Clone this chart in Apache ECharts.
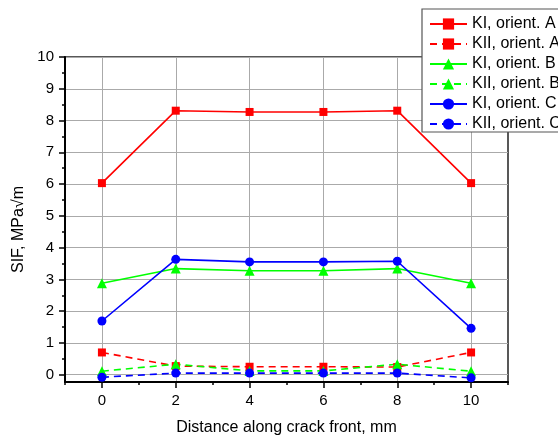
<!DOCTYPE html>
<html>
<head>
<meta charset="utf-8">
<script src="https://cdn.jsdelivr.net/npm/echarts@6/dist/echarts.min.js"></script>
<style>
html,body{margin:0;padding:0;background:#fff;}
#chart{width:558px;height:441px;}
</style>
</head>
<body>
<div id="chart"></div>
<script>
var xValues = [0, 2, 4, 6, 8, 10];
var kiA  = [6.03, 8.31, 8.27, 8.27, 8.31, 6.03];
var kiiA = [0.70, 0.27, 0.25, 0.25, 0.24, 0.70];
var kiB  = [2.88, 3.34, 3.27, 3.27, 3.34, 2.88];
var kiiB = [0.11, 0.33, 0.12, 0.12, 0.33, 0.11];
var kiC  = [1.69, 3.63, 3.55, 3.55, 3.57, 1.46];
var kiiC = [-0.08, 0.05, 0.05, 0.05, 0.05, -0.10];
var seriesNames = ['KI, orient. A', 'KII, orient. A', 'KI, orient. B', 'KII, orient. B', 'KI, orient. C', 'KII, orient. C'];
var xTickLabels = [0, 2, 4, 6, 8, 10];
var xMinorTicks = [-1, 1, 3, 5, 7, 9, 11];
var yTickLabels = [0, 1, 2, 3, 4, 5, 6, 7, 8, 9, 10];
var yMinorTicks = [0.5, 1.5, 2.5, 3.5, 4.5, 5.5, 6.5, 7.5, 8.5, 9.5];

function pairs(ys) { return xValues.map(function (x, i) { return [x, ys[i]]; }); }

var FONT = 'Liberation Sans, Arial, sans-serif';
var chart = echarts.init(document.getElementById('chart'), null, {renderer: 'canvas'});

function mk(name, data, color, symbol, size, dashed) {
  return {
    name: name, type: 'line', data: pairs(data),
    symbol: symbol, symbolSize: size,
    itemStyle: {color: color},
    lineStyle: {color: color, width: 1.6, type: dashed ? [7, 5] : 'solid'},
    emphasis: {disabled: true},
    animation: false
  };
}

var option = {
  animation: false,
  backgroundColor: '#fff',
  grid: {left: 65, right: 50, top: 57, bottom: 58, show: true, borderColor: '#222', borderWidth: 1.5, backgroundColor: 'transparent'},
  legend: {
    left: 422, top: 9, orient: 'vertical',
    itemWidth: 37, itemHeight: 14, itemGap: 4,
    padding: [7, 10, 0, 7],
    backgroundColor: '#fff', borderColor: '#555', borderWidth: 1.2,
    textStyle: {fontFamily: FONT, fontSize: 16, color: '#000'},
    data: seriesNames
  },
  xAxis: [{
    type: 'value', min: -1, max: 11, splitNumber: 6,
    name: 'Distance along crack front, mm', nameLocation: 'middle', nameGap: 38,
    nameTextStyle: {fontFamily: FONT, fontSize: 16, color: '#000'},
    axisLine: {show: true, onZero: false, lineStyle: {color: '#000', width: 2}},
    axisTick: {show: true, length: 6, customValues: xTickLabels, lineStyle: {color: '#000', width: 1.5}},
    axisLabel: {customValues: xTickLabels, margin: 11, fontFamily: FONT, fontSize: 15, color: '#000'},
    splitLine: {show: true, lineStyle: {color: '#aaa', width: 1}}
  }, {
    type: 'value', min: -1, max: 11, position: 'bottom',
    axisLine: {show: false, onZero: false},
    axisTick: {show: true, length: 3, customValues: xMinorTicks, lineStyle: {color: '#000', width: 1.5}},
    axisLabel: {show: false},
    splitLine: {show: false}
  }],
  yAxis: [{
    type: 'value', min: -0.23, max: 10, splitNumber: 10,
    name: 'SIF, MPa\u221Am', nameLocation: 'middle', nameGap: 38,
    nameTextStyle: {fontFamily: FONT, fontSize: 16, color: '#000', padding: [0, 20, 0, 0]},
    axisLine: {show: true, onZero: false, lineStyle: {color: '#000', width: 2}},
    axisTick: {show: true, length: 6, customValues: yTickLabels, lineStyle: {color: '#000', width: 1.5}},
    axisLabel: {customValues: yTickLabels, margin: 11, fontFamily: FONT, fontSize: 15, color: '#000'},
    splitLine: {show: true, lineStyle: {color: '#aaa', width: 1}}
  }, {
    type: 'value', min: -0.23, max: 10, position: 'left',
    axisLine: {show: false, onZero: false},
    axisTick: {show: true, length: 3, customValues: yMinorTicks, lineStyle: {color: '#000', width: 1.5}},
    axisLabel: {show: false},
    splitLine: {show: false}
  }],
  series: [
    mk(seriesNames[0], kiA, '#ff0000', 'rect', 8, false),
    mk(seriesNames[1], kiiA, '#ff0000', 'rect', 8, true),
    mk(seriesNames[2], kiB, '#00ff00', 'triangle', 10, false),
    mk(seriesNames[3], kiiB, '#00ff00', 'triangle', 10, true),
    mk(seriesNames[4], kiC, '#0000ff', 'circle', 9, false),
    mk(seriesNames[5], kiiC, '#0000ff', 'circle', 9, true)
  ]
};
chart.setOption(option);
</script>
</body>
</html>
